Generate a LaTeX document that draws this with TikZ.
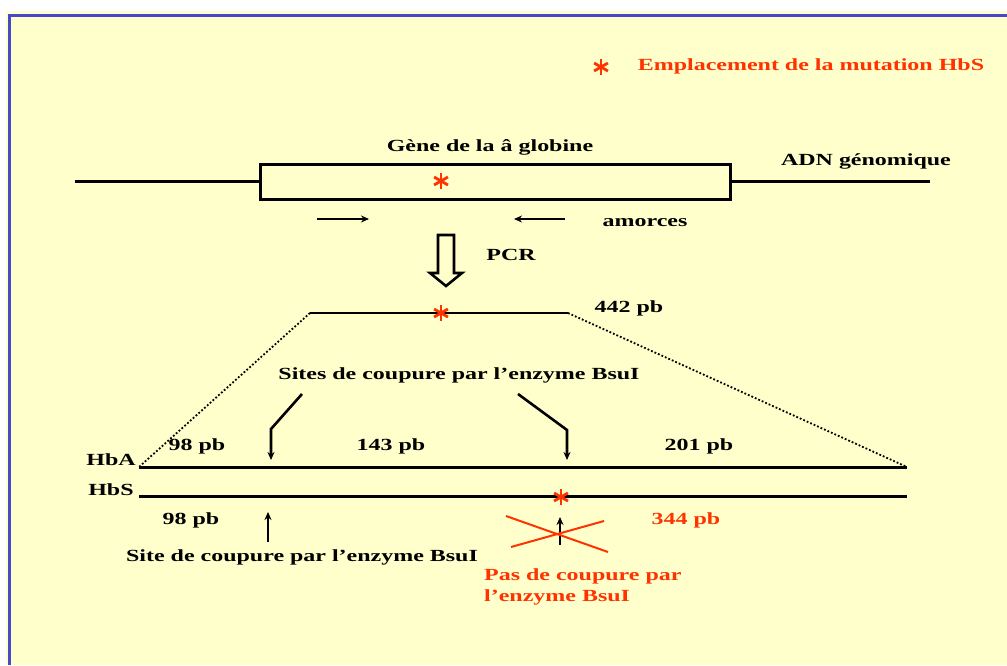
\documentclass[tikz,border=0pt]{standalone}
\usepackage{fontspec}
\setmainfont{Liberation Serif}[FakeStretch=1.41]
\usetikzlibrary{arrows.meta,positioning}
\definecolor{slidebg}{RGB}{255,255,204}
\definecolor{slideblue}{RGB}{72,72,204}
\definecolor{mutred}{RGB}{255,51,0}

\begin{document}
\begin{tikzpicture}[x=1pt,y=-1pt,
  lbl/.style={font=\fontsize{17}{21}\selectfont\bfseries,inner sep=0pt},
  redlbl/.style={lbl,text=mutred},
  dna/.style={line width=2.8pt},
  strand/.style={line width=3pt},
  zoomline/.style={line width=1.8pt,dotted},
  arr/.style={-{Stealth[length=8pt,width=7pt]},line width=2.6pt},
  mutstar/.pic={\foreach \a in {90,30,150} \draw[mutred,line width=2.8pt] (\a:8) -- (\a+180:8);}]
\useasboundingbox (0,0) rectangle (1007,665);
\fill[white] (0,0) rectangle (1007,665);
\fill[slidebg] (6,11) rectangle (1007,665);
\draw[slideblue,line width=3pt] (9.5,665) -- (9.5,15) -- (1007,15);
% legend
\pic at (601,67) {mutstar};
\node[redlbl] (legend) at (811,66) {Emplacement de la mutation HbS};
% genomic DNA and gene
\node[lbl] (gene) at (490,147) {Gène de la â globine};
\node[draw,line width=3pt,minimum width=470pt,minimum height=35pt,inner sep=0pt] (box) at (495,181.5) {};
\coordinate (gl) at (75,181.5);
\coordinate (gr) at (930,181.5);
\draw[dna] (gl) -- (box.west);
\draw[dna] (box.east) -- (gr);
\pic at (441,181) {mutstar};
\node[lbl] (adn) at (866,161) {ADN génomique};
% primers
\coordinate (fwdA) at (317,219);
\coordinate (fwdB) at (369,219);
\coordinate (revA) at (565,219);
\coordinate (revB) at (514,219);
\draw[arr] (fwdA) -- (fwdB);
\draw[arr] (revA) -- (revB);
\node[lbl] (amorces) at (645,223) {amorces};
% PCR
\draw[line width=2.6pt,fill=slidebg] (438,235) -- (454,235) -- (454,273) -- (462,273) -- (446,286) -- (430,273) -- (438,273) -- cycle;
\node[lbl] (pcr) at (511,255) {PCR};
% amplicon
\coordinate (ampL) at (310,313);
\coordinate (ampR) at (568,313);
\draw[dna] (ampL) -- (ampR);
\pic at (441,313) {mutstar};
\node[lbl] (amp) at (629,308) {442 pb};
% HbA / HbS
\coordinate (hbaL) at (139,467);
\coordinate (hbaR) at (907,467);
\coordinate (hbsL) at (139,496);
\coordinate (hbsR) at (907,496);
\draw[zoomline] (ampL) -- (hbaL);
\draw[zoomline] (ampR) -- (hbaR);
\draw[strand] (hbaL) -- (hbaR);
\draw[strand] (hbsL) -- (hbsR);
\node[lbl] (hba) at (111,460) {HbA};
\node[lbl] (hbs) at (111,490) {HbS};
\pic at (561,497) {mutstar};
% HbA fragments
\node[lbl] (sites) at (459,375) {Sites de coupure par l’enzyme BsuI};
\node[lbl] (fa1) at (197,446) {98 pb};
\node[lbl] (fa2) at (391,446) {143 pb};
\node[lbl] (fa3) at (699,446) {201 pb};
\coordinate (cutA1) at (302,394);
\coordinate (cutA2) at (271,429);
\coordinate (cutA3) at (271,460);
\coordinate (cutB1) at (518,394);
\coordinate (cutB2) at (567,430);
\coordinate (cutB3) at (567,460);
\draw[arr] (cutA1) -- (cutA2) -- (cutA3);
\draw[arr] (cutB1) -- (cutB2) -- (cutB3);
% HbS fragments
\node[lbl] (fs1) at (191,520) {98 pb};
\node[redlbl] (fs2) at (686,520) {344 pb};
\coordinate (upA1) at (268,542);
\coordinate (upA2) at (268,512);
\coordinate (upB1) at (560,545);
\coordinate (upB2) at (560,517);
\draw[arr] (upA1) -- (upA2);
\draw[arr] (upB1) -- (upB2);
\node[lbl] (site) at (302,557) {Site de coupure par l’enzyme BsuI};
\coordinate (xa1) at (506,516);
\coordinate (xa2) at (608,552);
\coordinate (xb1) at (511,547);
\coordinate (xb2) at (604,521);
\draw[mutred,line width=2pt] (xa1) -- (xa2);
\draw[mutred,line width=2pt] (xb1) -- (xb2);
\node[redlbl,align=left,anchor=west] (nocut) at (484,586.5) {Pas de coupure par\\l’enzyme BsuI};
\end{tikzpicture}
\end{document}
